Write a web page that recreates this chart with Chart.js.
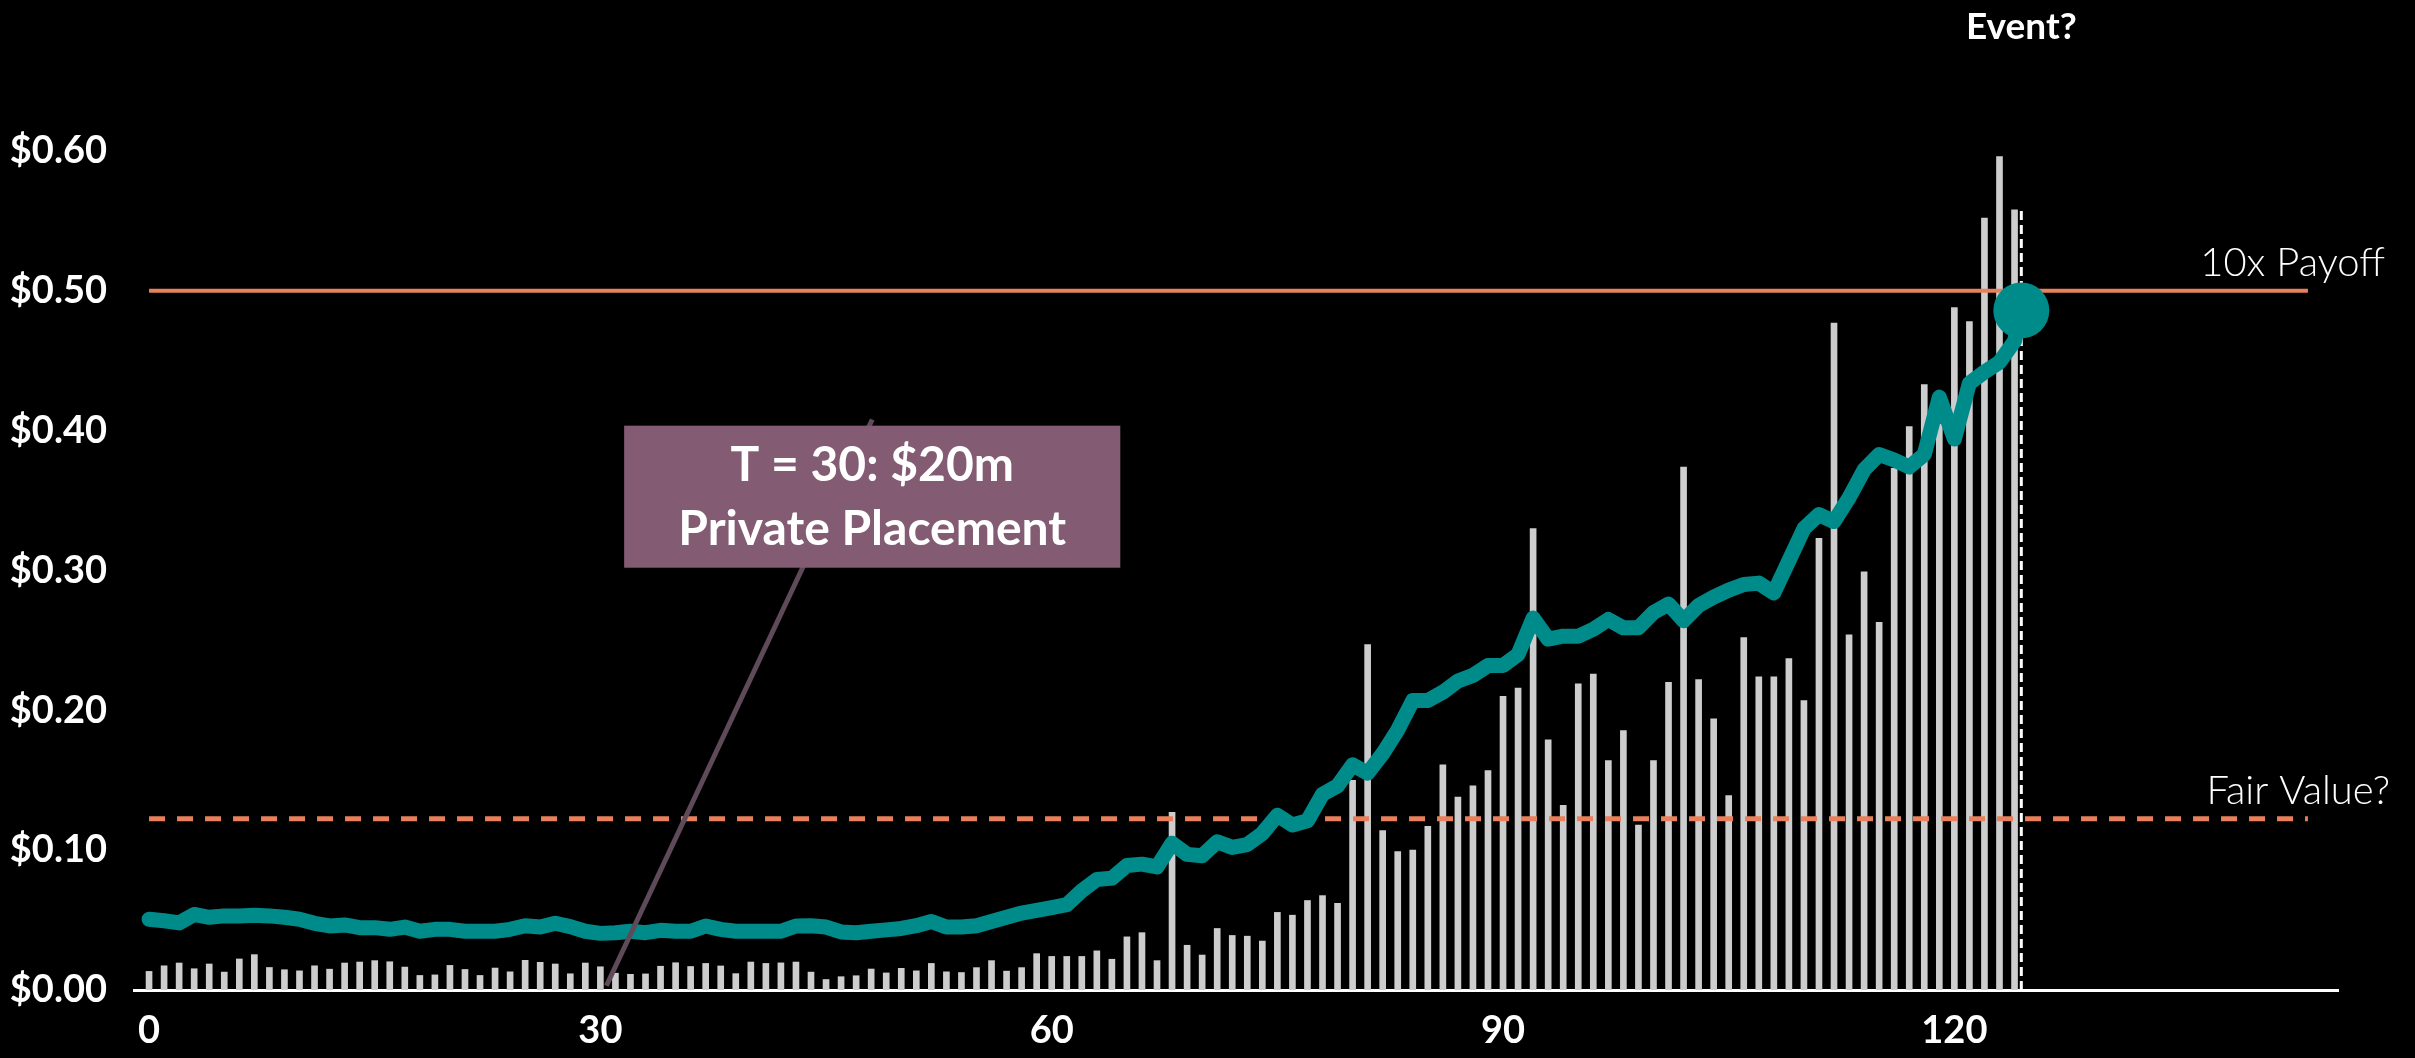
<!DOCTYPE html>
<html>
<head>
<meta charset="utf-8">
<script src="https://cdn.jsdelivr.net/npm/chart.js@4.4.0/dist/chart.umd.min.js"></script>
<style>
    html, body { margin: 0; padding: 0; background: #000; }
</style>
</head>
<body>
<canvas id="chartPrice" width="2415" height="1058"></canvas>
<script>
// Data
const days = [
    0, 1, 2, 3, 4, 5, 6, 7, 8, 9, 10, 11, 12, 13, 14, 15, 16, 17, 18, 19,
    20, 21, 22, 23, 24, 25, 26, 27, 28, 29, 30, 31, 32, 33, 34, 35, 36, 37, 38, 39,
    40, 41, 42, 43, 44, 45, 46, 47, 48, 49, 50, 51, 52, 53, 54, 55, 56, 57, 58, 59,
    60, 61, 62, 63, 64, 65, 66, 67, 68, 69, 70, 71, 72, 73, 74, 75, 76, 77, 78, 79,
    80, 81, 82, 83, 84, 85, 86, 87, 88, 89, 90, 91, 92, 93, 94, 95, 96, 97, 98, 99,
    100, 101, 102, 103, 104, 105, 106, 107, 108, 109, 110, 111, 112, 113, 114, 115, 116, 117, 118, 119,
    120, 121, 122, 123, 124
];

// share price ($)
const price = [
    0.0506, 0.0495, 0.048, 0.054, 0.052, 0.053, 0.053, 0.0535, 0.053, 0.052,
    0.0506, 0.0477, 0.0458, 0.0465, 0.0446, 0.0446, 0.0434, 0.045, 0.042, 0.0434,
    0.0434, 0.042, 0.042, 0.042, 0.0434, 0.046, 0.045, 0.0477, 0.0453, 0.042,
    0.0405, 0.041, 0.042, 0.041, 0.0427, 0.042, 0.042, 0.0458, 0.0434, 0.042,
    0.042, 0.042, 0.042, 0.0458, 0.046, 0.045, 0.0415, 0.041, 0.042, 0.043,
    0.044, 0.046, 0.049, 0.045, 0.045, 0.046, 0.049, 0.052, 0.055, 0.057,
    0.059, 0.061, 0.071, 0.079, 0.080, 0.089, 0.090, 0.088, 0.105, 0.097,
    0.096, 0.106, 0.102, 0.104, 0.112, 0.125, 0.118, 0.121, 0.140, 0.146,
    0.161, 0.155, 0.169, 0.186, 0.207, 0.207, 0.213, 0.221, 0.225, 0.232,
    0.232, 0.240, 0.266, 0.251, 0.253, 0.253, 0.258, 0.265, 0.259, 0.259,
    0.270, 0.276, 0.264, 0.275, 0.281, 0.286, 0.290, 0.291, 0.284, 0.307,
    0.330, 0.340, 0.335, 0.352, 0.372, 0.383, 0.379, 0.374, 0.383, 0.424,
    0.394, 0.434, 0.442, 0.449, 0.464
];

// traded volume (m shares)
const volume = [
    1.33, 1.73, 1.93, 1.52, 1.86, 1.28, 2.22, 2.53, 1.61, 1.45,
    1.37, 1.73, 1.49, 1.93, 2.00, 2.10, 2.02, 1.64, 1.04, 1.08,
    1.76, 1.47, 1.04, 1.57, 1.30, 2.12, 1.98, 1.86, 1.16, 1.93,
    1.66, 1.20, 1.12, 1.15, 1.70, 1.95, 1.68, 1.90, 1.72, 1.17,
    2.00, 1.90, 1.94, 2.00, 1.28, 0.75, 0.95, 1.02, 1.50, 1.22,
    1.55, 1.37, 1.90, 1.30, 1.25, 1.60, 2.10, 1.35, 1.60, 2.60,
    2.40, 2.40, 2.40, 2.80, 2.20, 3.80, 4.10, 2.10, 12.7, 3.20,
    2.50, 4.40, 3.90, 3.85, 3.50, 5.55, 5.35, 6.40, 6.75, 6.20,
    15.0, 24.7, 11.4, 9.9, 10.0, 11.7, 16.1, 13.8, 14.6, 15.7,
    21.0, 21.6, 33.0, 17.9, 13.2, 21.9, 22.6, 16.4, 18.55, 11.8,
    16.4, 22.0, 37.4, 22.2, 19.4, 13.9, 25.2, 22.4, 22.4, 23.7,
    20.7, 32.3, 47.7, 25.4, 29.9, 26.3, 37.3, 40.3, 43.3, 40.5,
    48.8, 47.8, 55.2, 59.6, 55.8
];

const xTicks = [0, 30, 60, 90, 120];
const yTicks = [0, 0.1, 0.2, 0.3, 0.4, 0.5, 0.6];

const payoffLevel = 0.50;
const fairValue = 0.1225;
const refLineDays = [0, 143.5];
const eventDay = 124.45;
const eventPrice = 0.486;
const eventLineTop = 0.559;
const placementDay = 30.4;

// build points
const pricePoints = days.map((d, i) => ({ x: d, y: price[i] }));
pricePoints.push({ x: eventDay, y: eventPrice });
const volumePoints = days.map((d, i) => ({ x: d, y: volume[i] }));
const lastIdx = pricePoints.length - 1;

const fontFamily = 'Lato, "Noto Sans", sans-serif';
const teal = '#008b8b';
const coral = '#e8805c';

// labels + callout box
const overlay = {
    id: 'overlay',
    afterDatasetsDraw(chart) {
        const { ctx, scales: { x, y } } = chart;
        ctx.save();

        // leader line from the private placement
        const boxCx = x.getPixelForValue(48.07);
        ctx.strokeStyle = '#5f4a5a';
        ctx.lineWidth = 5;
        ctx.beginPath();
        ctx.moveTo(x.getPixelForValue(placementDay), y.getPixelForValue(0.003));
        ctx.lineTo(boxCx, y.getPixelForValue(0.408));
        ctx.stroke();

        // box
        const bx0 = x.getPixelForValue(31.58), bx1 = x.getPixelForValue(64.56);
        const by0 = y.getPixelForValue(0.4036), by1 = y.getPixelForValue(0.302);
        ctx.fillStyle = '#835c74';
        ctx.fillRect(bx0, by0, bx1 - bx0, by1 - by0);
        ctx.fillStyle = '#ffffff';
        ctx.textAlign = 'center';
        ctx.textBaseline = 'middle';
        ctx.font = 'bold 48px ' + fontFamily;
        const cx = (bx0 + bx1) / 2;
        ctx.fillText('T = 30: $20m', cx, by0 + 40);
        ctx.fillText('Private Placement', cx, by0 + 104);

        // reference line labels
        ctx.font = '300 40px ' + fontFamily;
        ctx.textAlign = 'right';
        ctx.fillText('10x Payoff', 2385, y.getPixelForValue(payoffLevel) - 28);
        ctx.fillText('Fair Value?', 2390, y.getPixelForValue(fairValue) - 28);

        // event label
        ctx.font = 'bold 37px ' + fontFamily;
        ctx.textAlign = 'center';
        ctx.fillText('Event?', x.getPixelForValue(eventDay), 27);

        ctx.restore();
    }
};

const cvsPrice = document.getElementById('chartPrice').getContext('2d');
const chartPrice = new Chart(cvsPrice, {
    data: {
        datasets: [{
            type: 'line',
            label: 'Price',
            data: pricePoints,
            borderColor: teal,
            backgroundColor: teal,
            borderWidth: 15,
            borderJoinStyle: 'round',
            borderCapStyle: 'round',
            pointRadius: ctx => ctx.dataIndex === lastIdx ? 28 : 0,
            pointBorderWidth: 0,
            tension: 0,
            clip: false,
            order: 0
        }, {
            type: 'line',
            label: '10x Payoff',
            data: refLineDays.map(d => ({ x: d, y: payoffLevel })),
            borderColor: coral,
            borderWidth: 4,
            pointRadius: 0,
            order: 2
        }, {
            type: 'line',
            label: 'Fair Value?',
            data: refLineDays.map(d => ({ x: d, y: fairValue })),
            borderColor: coral,
            borderWidth: 5,
            borderDash: [16, 12],
            pointRadius: 0,
            order: 2
        }, {
            type: 'line',
            label: 'Event?',
            data: [{ x: eventDay, y: 0 }, { x: eventDay, y: eventLineTop }],
            borderColor: '#ffffff',
            borderWidth: 3,
            borderDash: [9, 5],
            pointRadius: 0,
            order: 3
        }, {
            type: 'bar',
            label: 'Volume',
            data: volumePoints,
            yAxisID: 'yVol',
            backgroundColor: '#cdcdcd',
            borderWidth: 0,
            barThickness: 6,
            order: 5
        }]
    },
    plugins: [overlay],
    options: {
        responsive: false,
        animation: false,
        devicePixelRatio: 1,
        layout: { padding: { top: 0, right: 77, left: 0, bottom: 0 } },
        scales: {
            x: {
                type: 'linear',
                offset: false,
                min: -1,
                max: 145.5,
                afterBuildTicks: s => { s.ticks = xTicks.map(v => ({ value: v })); },
                afterFit: s => { s.height = 68; s.paddingLeft = 0; s.paddingRight = 0; },
                ticks: {
                    color: '#ffffff',
                    padding: 18,
                    maxRotation: 0,
                    font: { family: fontFamily, weight: 'bold', size: 38 },
                    callback: v => String(v)
                },
                grid: { display: false, drawTicks: false, offset: false },
                border: { display: true, color: '#ffffff', width: 3 }
            },
            y: {
                min: 0,
                max: 0.688,
                afterBuildTicks: s => { s.ticks = yTicks.map(v => ({ value: v })); },
                afterFit: s => { s.width = 134; s.paddingTop = 0; s.paddingBottom = 0; },
                ticks: {
                    color: '#ffffff',
                    padding: 27,
                    font: { family: fontFamily, weight: 'bold', size: 38 },
                    callback: v => '$' + Number(v).toFixed(2)
                },
                grid: { display: false, drawTicks: false },
                border: { display: false }
            },
            yVol: {
                display: false,
                min: 0,
                max: 68.8
            }
        },
        plugins: {
            legend: { display: false },
            tooltip: { enabled: false }
        }
    }
});
</script>
</body>
</html>
